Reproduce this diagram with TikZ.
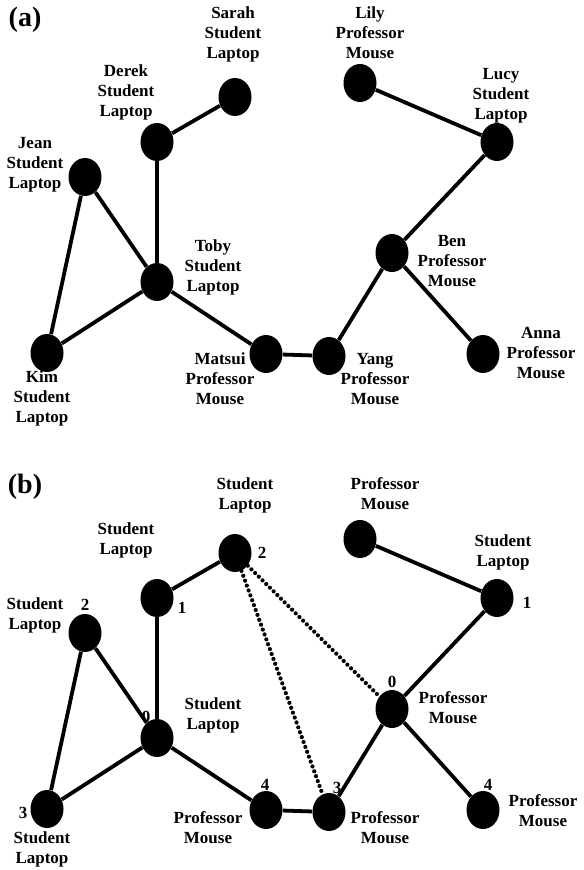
\documentclass[tikz,border=0pt]{standalone}
\usepackage{fontspec}
\setmainfont{Liberation Serif}
\usetikzlibrary{shapes.geometric}
\begin{document}
\begin{tikzpicture}[x=0.5pt,y=-0.5pt,
  vertex/.style={ellipse,fill=black,minimum width=16.5pt,minimum height=19pt,inner sep=0pt},
  tag/.style={align=center,inner sep=0pt,font=\bfseries\fontsize{8.5}{10}\selectfont},
  rank/.style={inner sep=0pt,font=\bfseries\fontsize{8.5}{10}\selectfont},
  panel/.style={inner sep=0pt,font=\bfseries\fontsize{14}{16}\selectfont},
  link/.style={line width=1.9pt},
  hint/.style={line width=2.1pt,dash pattern=on 0pt off 2.6pt,line cap=round}]
\useasboundingbox (0,0) rectangle (583,870);
\node[panel] (pa) at (25,20) {(a)};
\node[panel] (pb) at (25,487) {(b)};
% the same network twice, panel (b) 456 lower
\foreach \n/\x/\y in {sarah/235/97, derek/157/142, jean/85/177, toby/157/282, kim/47/353,
  matsui/266/354, yang/329/356, ben/392/253, anna/483/354, lily/360/83, lucy/497/142}{
  \node[vertex] (a\n) at (\x,\y) {};
  \node[vertex] (b\n) at (\x,\y+456) {};
}
\foreach \u/\v in {sarah/derek, derek/toby, jean/toby, jean/kim, kim/toby, toby/matsui,
  matsui/yang, yang/ben, ben/lucy, lucy/lily, ben/anna}{
  \draw[link] (a\u) -- (a\v);
  \draw[link] (b\u) -- (b\v);
}
\draw[hint] (bsarah) -- (byang);
\draw[hint] (bsarah) -- (bben);
% labels of panel (a)
\node[tag] (tasarah) at (233,34) {Sarah\\Student\\Laptop};
\node[tag] (taderek) at (126,92) {Derek\\Student\\Laptop};
\node[tag] (tajean) at (35,165) {Jean\\Student\\Laptop};
\node[tag] (tatoby) at (213,267) {Toby\\Student\\Laptop};
\node[tag] (takim) at (42,398) {Kim\\Student\\Laptop};
\node[tag] (tamatsui) at (220,379) {Matsui\\Professor\\Mouse};
\node[tag] (tayang) at (375,379) {Yang\\Professor\\Mouse};
\node[tag] (taben) at (452,261) {Ben\\Professor\\Mouse};
\node[tag] (taanna) at (541,353) {Anna\\Professor\\Mouse};
\node[tag] (talily) at (370,33) {Lily\\Professor\\Mouse};
\node[tag] (talucy) at (501,96) {Lucy\\Student\\Laptop};
% labels of panel (b)
\node[tag] (tbsarah) at (245,495) {Student\\Laptop};
\node[tag] (tbderek) at (126,540) {Student\\Laptop};
\node[tag] (tbjean) at (35,615) {Student\\Laptop};
\node[tag] (tbtoby) at (213,715) {Student\\Laptop};
\node[tag] (tbkim) at (42,849) {Student\\Laptop};
\node[tag] (tbmatsui) at (208,828) {Professor\\Mouse};
\node[tag] (tbyang) at (385,828) {Professor\\Mouse};
\node[tag] (tbben) at (453,708) {Professor\\Mouse};
\node[tag] (tbanna) at (543,811) {Professor\\Mouse};
\node[tag] (tblily) at (385,494) {Professor\\Mouse};
\node[tag] (tblucy) at (503,552) {Student\\Laptop};
\foreach \n/\x/\y/\r in {sarah/262/553/2, derek/182/608/1, jean/85/605/2, toby/146/717/0,
  kim/23/813/3, matsui/265/785/4, yang/337/788/3, ben/392/682/0, anna/488/785/4, lucy/527/603/1}
  \node[rank] (r\n) at (\x,\y) {\r};
\end{tikzpicture}
\end{document}
